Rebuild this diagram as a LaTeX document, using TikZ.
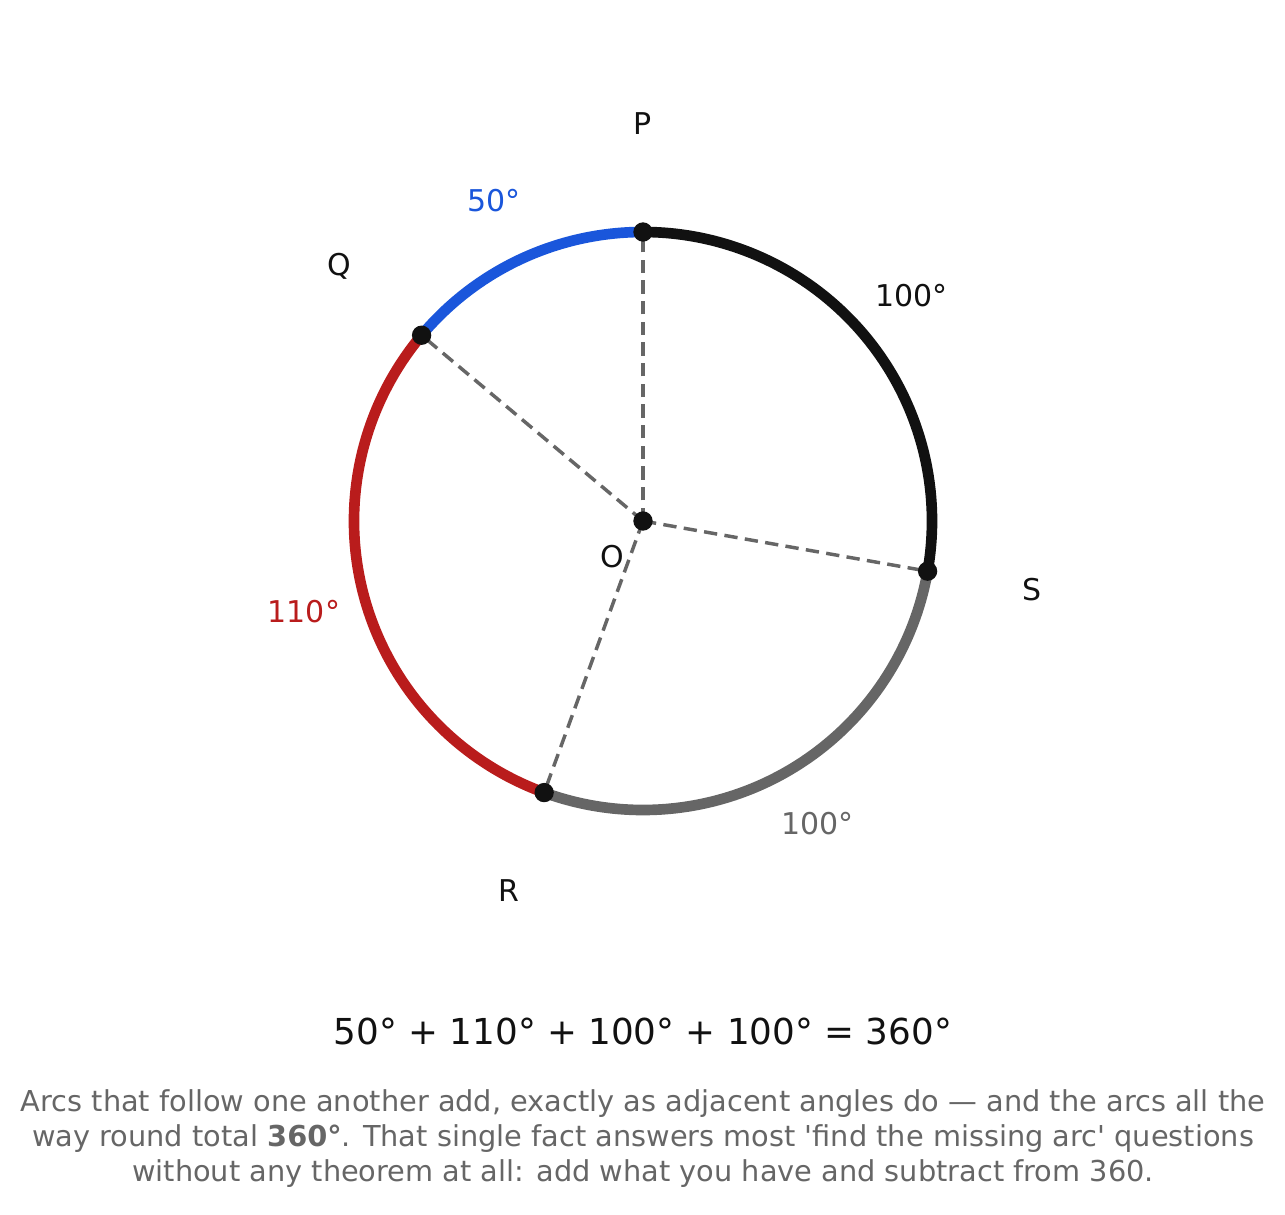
\documentclass[tikz,border=0pt]{standalone}
\usepackage{fontspec}
\setmainfont{DejaVu Sans}[Ligatures=TeXOff]
\usepackage{xcolor}
\definecolor{arcblue}{HTML}{1A56DB}
\definecolor{arcred}{HTML}{B91C1C}
\definecolor{arcblack}{HTML}{111111}
\definecolor{arcgray}{HTML}{666666}
\tikzset{
  arcline/.style={line width=8pt},
  radius line/.style={arcgray, line width=2.6pt, dash pattern=on 10pt off 5.5pt},
  pt dot/.style={circle, fill=arcblack, inner sep=0pt, minimum size=14.5pt},
  pt label/.style={font=\fontsize{22.5}{27}\selectfont, text=arcblack},
  arc label/.style={font=\fontsize{22.5}{27}\selectfont}
}

\begin{document}
\begin{tikzpicture}[x=0.75pt,y=0.75pt]
      \useasboundingbox (-643,-693) rectangle (642,521);
      % centre and the four points on the circle
      \coordinate (O) at (0,0);
      \coordinate (P) at (90:289);
      \coordinate (Q) at (140:289);
      \coordinate (R) at (250:289);
      \coordinate (S) at (350:289);
      \draw[radius line] (O) -- (P);
      \draw[radius line] (O) -- (Q);
      \draw[radius line] (O) -- (R);
      \draw[radius line] (O) -- (S);
      % the four arcs
      \draw[arcline, arcblue] (P) arc[start angle=90, end angle=140, radius=216.75pt];
      \draw[arcline, arcred] (Q) arc[start angle=140, end angle=250, radius=216.75pt];
      \draw[arcline, arcgray] (R) arc[start angle=250, end angle=350, radius=216.75pt];
      \draw[arcline, arcblack] (S) arc[start angle=-10, end angle=90, radius=216.75pt];
      \node[pt dot] (dO) at (O) {};
      \node[pt dot] (dP) at (P) {};
      \node[pt dot] (dQ) at (Q) {};
      \node[pt dot] (dR) at (R) {};
      \node[pt dot] (dS) at (S) {};
      % labels
      \node[pt label] (lP) at (90:397) {P};
      \node[pt label] (lQ) at (140:397) {Q};
      \node[pt label] (lR) at (250:393) {R};
      \node[pt label] (lS) at (350:395) {S};
      \node[pt label] (lO) at (-31,-36) {O};
      \node[arc label, text=arcblue] (aPQ) at (115:353) {50°};
      \node[arc label, text=arcred] (aQR) at (195:351) {110°};
      \node[arc label, text=arcgray] (aRS) at (300:349) {100°};
      \node[arc label, text=arcblack] (aSP) at (40:351) {100°};
      \node[font=\fontsize{26.8}{32}\selectfont, text=arcblack] (sum) at (0,-510)
        {50° + 110° + 100° + 100° = 360°};
      \node[font=\fontsize{21.6}{26.25}\selectfont, text=arcgray, align=center] (note) at (0,-618)
        {Arcs that follow one another add, exactly as adjacent angles do — and the arcs all the\\
         way round total \textbf{360°}. That single fact answers most 'find the missing arc' questions\\
         without any theorem at all: add what you have and subtract from 360.};
    \end{tikzpicture}
\end{document}
